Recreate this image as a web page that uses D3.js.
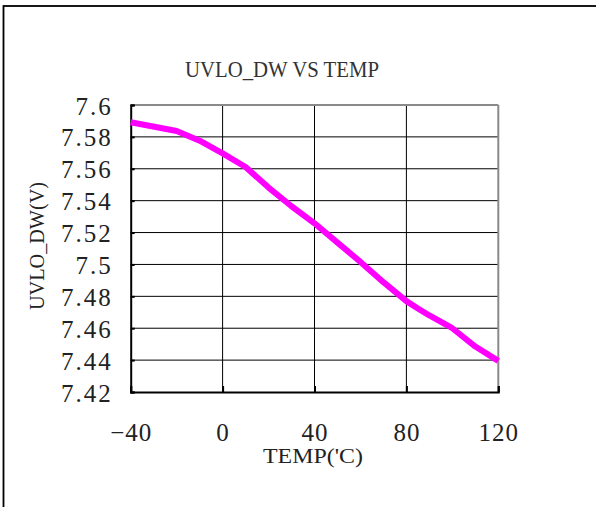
<!DOCTYPE html>
<html><head><meta charset="utf-8">
<script src="https://cdn.jsdelivr.net/npm/d3@7"></script>
<style>body{margin:0;background:#fff}svg{display:block}text{font-family:'Liberation Serif','DejaVu Serif',serif}</style></head>
<body><svg id="c" width="596" height="507"></svg>
<script>
const temps = [-40, -20, -10, 0, 10, 20, 30, 40, 50, 60, 70, 80, 85, 90, 100, 110, 120];
const uvloDw = [7.5892, 7.5837, 7.5776, 7.5697, 7.5611, 7.5482, 7.5365, 7.5258, 7.5137, 7.5016, 7.4889, 7.4770, 7.4724, 7.4680, 7.4600, 7.4485, 7.4395];
const xTicks = [-40, 0, 40, 80, 120];
const yTicks = [7.42, 7.44, 7.46, 7.48, 7.5, 7.52, 7.54, 7.56, 7.58, 7.6];
const titleText = "UVLO_DW VS TEMP";
const xTitle = "TEMP('C)";
const yTitle = "UVLO_DW(V)";

const svg = d3.select("#c");
const FONT = "'Liberation Serif', 'DejaVu Serif', serif";
const L = 130.7, R = 498.3, T = 105, B = 392;
const x = d3.scaleLinear().domain([-40, 120]).range([L, R]);
const y = d3.scaleLinear().domain([7.42, 7.6]).range([B, T]);

// outer frame
svg.append("rect").attr("x", 3.5).attr("y", 6).attr("width", 700).attr("height", 700)
  .attr("fill", "none").attr("stroke", "#000").attr("stroke-width", 1.8);

// title
svg.append("text").attr("x", 282).attr("y", 76.5).attr("text-anchor", "middle")
  .attr("font-family", FONT).attr("font-size", 23).attr("fill", "#333")
  .attr("textLength", 194).attr("lengthAdjust", "spacingAndGlyphs").text(titleText);

// horizontal gridlines
svg.append("g").selectAll("line").data(yTicks.filter(d => d > 7.42 && d < 7.6)).join("line")
  .attr("x1", L).attr("x2", R).attr("y1", d => y(d)).attr("y2", d => y(d))
  .attr("stroke", "#000").attr("stroke-width", 1);
// vertical gridlines
svg.append("g").selectAll("line").data(xTicks.filter(d => d > -40 && d < 120)).join("line")
  .attr("y1", T).attr("y2", B).attr("x1", d => x(d)).attr("x2", d => x(d))
  .attr("stroke", "#000").attr("stroke-width", 1);

// top & right border (gray)
svg.append("line").attr("x1", L).attr("x2", R).attr("y1", T).attr("y2", T)
  .attr("stroke", "#8a8a8a").attr("stroke-width", 2);
svg.append("line").attr("x1", R).attr("x2", R).attr("y1", T).attr("y2", B)
  .attr("stroke", "#8a8a8a").attr("stroke-width", 2);

// axes (black)
const yAxis = d3.axisLeft(y).tickValues(yTicks).tickSize(-4).tickPadding(20)
  .tickFormat(d => String(+d.toFixed(2)));
const gy = svg.append("g").attr("transform", `translate(${L},0)`).call(yAxis)
  .attr("font-family", FONT).attr("font-size", 25);
gy.select(".domain").attr("stroke", "#000").attr("stroke-width", 2);
gy.selectAll(".tick line").attr("stroke", "#000").attr("stroke-width", 2);
gy.selectAll(".tick text").attr("font-family", FONT).attr("font-size", 25)
  .attr("fill", "#222").attr("letter-spacing", 2).attr("dy", "0.36em").attr("x", -18);

const xAxis = d3.axisBottom(x).tickValues(xTicks).tickSize(-6).tickPadding(34)
  .tickFormat(d3.format("d"));
const gx = svg.append("g").attr("transform", `translate(0,${B})`).call(xAxis)
  .attr("font-family", FONT).attr("font-size", 25);
gx.select(".domain").attr("stroke", "#000").attr("stroke-width", 2);
gx.selectAll(".tick line").attr("stroke", "#000").attr("stroke-width", 2);
gx.selectAll(".tick text").attr("font-family", FONT).attr("font-size", 25)
  .attr("fill", "#222").attr("dy", "0.71em").attr("y", 31).attr("letter-spacing", 1);

// axis titles
svg.append("text").attr("x", 313).attr("y", 463).attr("text-anchor", "middle")
  .attr("font-family", FONT).attr("font-size", 21).attr("fill", "#222")
  .attr("textLength", 100).attr("lengthAdjust", "spacingAndGlyphs").text(xTitle);
svg.append("text").attr("transform", "translate(44,246) rotate(-90)").attr("text-anchor", "middle")
  .attr("font-family", FONT).attr("font-size", 22).attr("fill", "#222")
  .attr("textLength", 128).attr("lengthAdjust", "spacingAndGlyphs").text(yTitle);

// data line
const pts = temps.map((t, i) => [t, uvloDw[i]]);
svg.append("path").datum(pts)
  .attr("d", d3.line().x(d => x(d[0])).y(d => y(d[1])))
  .attr("fill", "none").attr("stroke", "#ff00ff").attr("stroke-width", 6)
  .attr("stroke-linejoin", "round");
</script>
</body></html>
